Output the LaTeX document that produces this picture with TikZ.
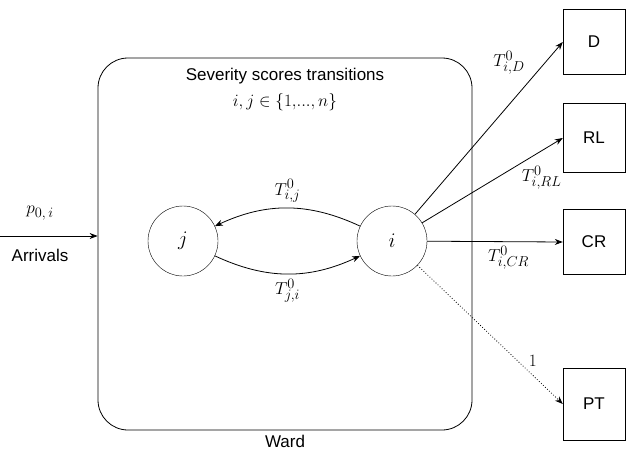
\documentclass[tikz,border=0pt]{standalone}
\usepackage{fontspec}
\setmainfont{Liberation Sans}
\usetikzlibrary{arrows.meta}
\begin{document}
\begin{tikzpicture}[x=1pt,y=-1pt,font=\fontsize{17}{20}\selectfont,
  st/.style={circle,draw,minimum size=70pt,inner sep=0pt,font=\fontsize{20}{22}\selectfont},
  bx/.style={draw,minimum width=62pt,minimum height=65pt,inner sep=0pt},
  arr/.style={-{Stealth[length=8pt,width=6pt]},line width=0.8pt},
  lbl/.style={font=\fontsize{19}{22}\selectfont,inner sep=2pt}]
\useasboundingbox (0,0) rectangle (640,452);
\node[draw,rounded corners=30pt,minimum width=374pt,minimum height=372pt,line width=0.8pt] (ward) at (285,244) {};
\node (wl) at (285,441) {Ward};
\node (t1) at (285,76) {Severity scores transitions};
\node[lbl] (t2) at (285,102) {$i,j\in\{1,\!...,n\}$};
\node[st] (j) at (183,241) {$j$};
\node[st] (i) at (392,241) {$i$};
\node[bx] (D) at (594,42) {D};
\node[bx,minimum height=69pt] (RL) at (594,138) {RL};
\node[bx] (CR) at (594,242) {CR};
\node[bx,minimum height=72pt] (PT) at (594,404) {PT};
\coordinate (a0) at (0,236);
\node (arr) at (40,255) {Arrivals};
\node[lbl] (p) at (40,213) {$p_{0,\,i}$};
\draw[arr] (a0) -- (ward.west |- a0);
\draw[arr] (i) to[bend right=25] node[lbl,above,yshift=3pt] {$T^0_{i,j}$} (j);
\draw[arr] (j) to[bend right=25] node[lbl,below,yshift=-3pt] {$T^0_{j,i}$} (i);
\draw[arr] (i) -- (D.west) node[lbl,pos=0.88,left,xshift=-18pt] {$T^0_{i,D}$};
\draw[arr] (i) -- (RL.west) node[lbl,pos=0.72,below right,xshift=-4pt,yshift=-2pt] {$T^0_{i,RL}$};
\draw[arr] (i) -- (CR.west) node[lbl,pos=0.6,below,yshift=-2pt] {$T^0_{i,CR}$};
\draw[arr,dotted] (i) -- (PT.west) node[lbl,pos=0.75,above right] {$1$};
\end{tikzpicture}
\end{document}
